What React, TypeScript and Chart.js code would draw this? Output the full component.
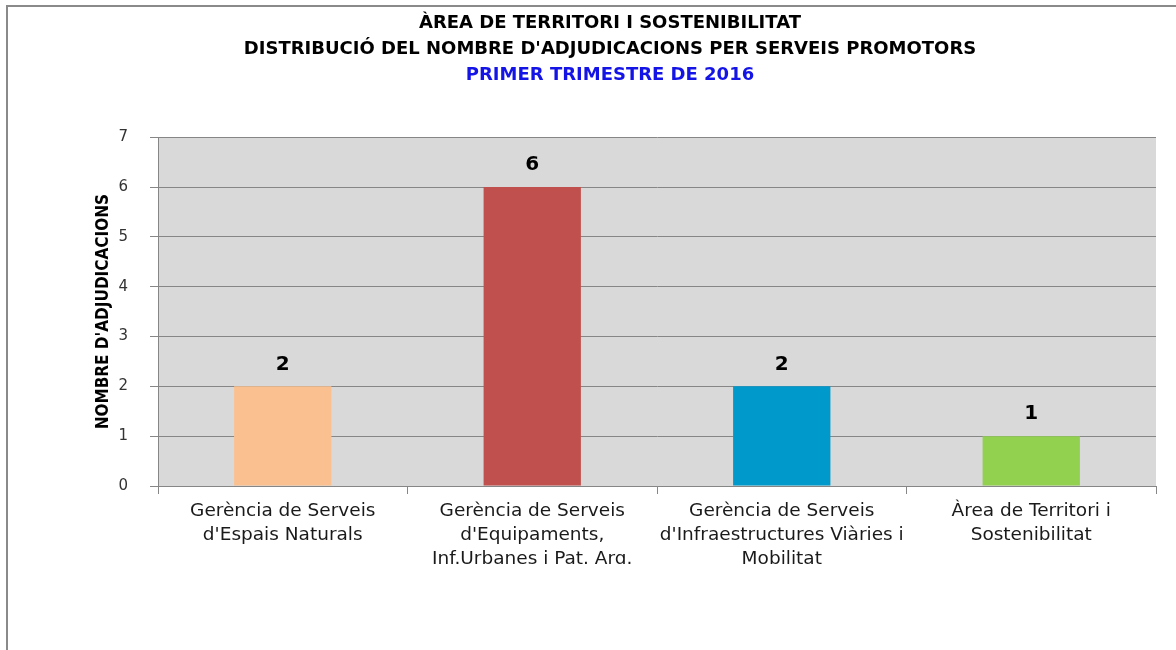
import React, { useEffect, useRef } from "react";
import { Chart, registerables } from "chart.js";

Chart.register(...registerables);

const categories: string[][] = [
  ["Gerència de Serveis", "d'Espais Naturals"],
  ["Gerència de Serveis", "d'Equipaments,", "Inf.Urbanes i Pat. Arq."],
  ["Gerència de Serveis", "d'Infraestructures Viàries i", "Mobilitat"],
  ["Àrea de Territori i", "Sostenibilitat"],
];
const values: number[] = [2, 6, 2, 1];
const barColors: string[] = ["#FAC090", "#C0504D", "#0099CC", "#92D050"];
const titleLines: string[] = [
  "ÀREA DE TERRITORI I SOSTENIBILITAT",
  "DISTRIBUCIÓ DEL NOMBRE D'ADJUDICACIONS PER SERVEIS PROMOTORS",
];
const subtitleText = "PRIMER TRIMESTRE DE 2016";
const yAxisTitle = "NOMBRE D'ADJUDICACIONS";

const GRID = "#868686";
const SANS = "'DejaVu Sans', sans-serif";
const COND = "'DejaVu Sans Condensed', 'DejaVu Sans', sans-serif";

const bgPlugin = {
  id: "plotBg",
  beforeDraw(chart: any) {
    const { ctx, chartArea } = chart;
    ctx.save();
    ctx.fillStyle = "#D9D9D9";
    ctx.fillRect(chartArea.left, chartArea.top, chartArea.right - chartArea.left, chartArea.bottom - chartArea.top);
    ctx.restore();
  },
};

const valueLabelPlugin = {
  id: "valueLabels",
  afterDatasetsDraw(chart: any) {
    const { ctx } = chart;
    const meta = chart.getDatasetMeta(0);
    const data = chart.data.datasets[0].data;
    ctx.save();
    ctx.fillStyle = "#000";
    ctx.font = "bold 20px " + SANS;
    ctx.textAlign = "center";
    ctx.textBaseline = "middle";
    meta.data.forEach((bar: any, i: number) => {
      ctx.fillText(String(data[i]), bar.x, bar.y - 22);
    });
    ctx.restore();
  },
};

export default function App() {
  const ref = useRef<HTMLCanvasElement>(null);
  useEffect(() => {
    if (!ref.current) return;
    const chart = new Chart(ref.current, {
      type: "bar",
      data: {
        labels: categories,
        datasets: [
          {
            data: values,
            backgroundColor: barColors,
            borderWidth: 0,
            barPercentage: 0.39,
            categoryPercentage: 1,
          },
        ],
      },
      options: {
        responsive: false,
        animation: false,
        layout: { padding: { left: 56, right: 56, top: 0, bottom: 0 } },
        plugins: {
          legend: { display: false },
          tooltip: { enabled: false },
          title: {
            display: true,
            text: titleLines,
            color: "#000",
            font: { family: SANS, size: 18, weight: "bold", lineHeight: 1.45 },
            padding: { top: 3, bottom: 0 },
          },
          subtitle: {
            display: true,
            text: subtitleText,
            color: "#1414E6",
            font: { family: SANS, size: 18, weight: "bold", lineHeight: 1.45 },
            padding: { top: 0, bottom: 49 },
          },
        },
        scales: {
          x: {
            offset: true,
            grid: {
              display: true,
              offset: true,
              drawOnChartArea: false,
              drawTicks: true,
              tickLength: 8,
              color: GRID,
            },
            border: { display: true, color: GRID },
            ticks: {
              color: "#1a1a1a",
              padding: 5,
              autoSkip: false,
              maxRotation: 0,
              font: { family: SANS, size: 18.5, lineHeight: 1.3 },
            },
            afterFit(s: any) {
              s.height = 78;
            },
          },
          y: {
            min: 0,
            max: 7,
            ticks: {
              stepSize: 1,
              color: "#333",
              padding: 22,
              font: { family: SANS, size: 15 },
            },
            grid: { color: GRID, tickLength: 8, drawTicks: true },
            border: { display: true, color: GRID },
            title: {
              display: true,
              text: yAxisTitle,
              color: "#000",
              font: { family: COND, size: 17, weight: "bold", lineHeight: 1.2 },
              padding: { top: 29, bottom: 0 },
            },
            afterFit(s: any) {
              s.width = 94;
            },
          },
        },
      },
      plugins: [bgPlugin, valueLabelPlugin],
    });
    return () => chart.destroy();
  }, []);

  return (
    <div style={{ position: "fixed", left: 0, top: 0, width: 1176, height: 650, overflow: "hidden", background: "#fff" }}>
      <div
        style={{
          position: "absolute",
          left: 6,
          top: 5,
          width: 1300,
          height: 800,
          border: "2px solid #8a8a8a",
          background: "#fff",
        }}
      >
        <canvas ref={ref} width={1204} height={557} style={{ display: "block", width: 1204, height: 557 }} />
      </div>
    </div>
  );
}
